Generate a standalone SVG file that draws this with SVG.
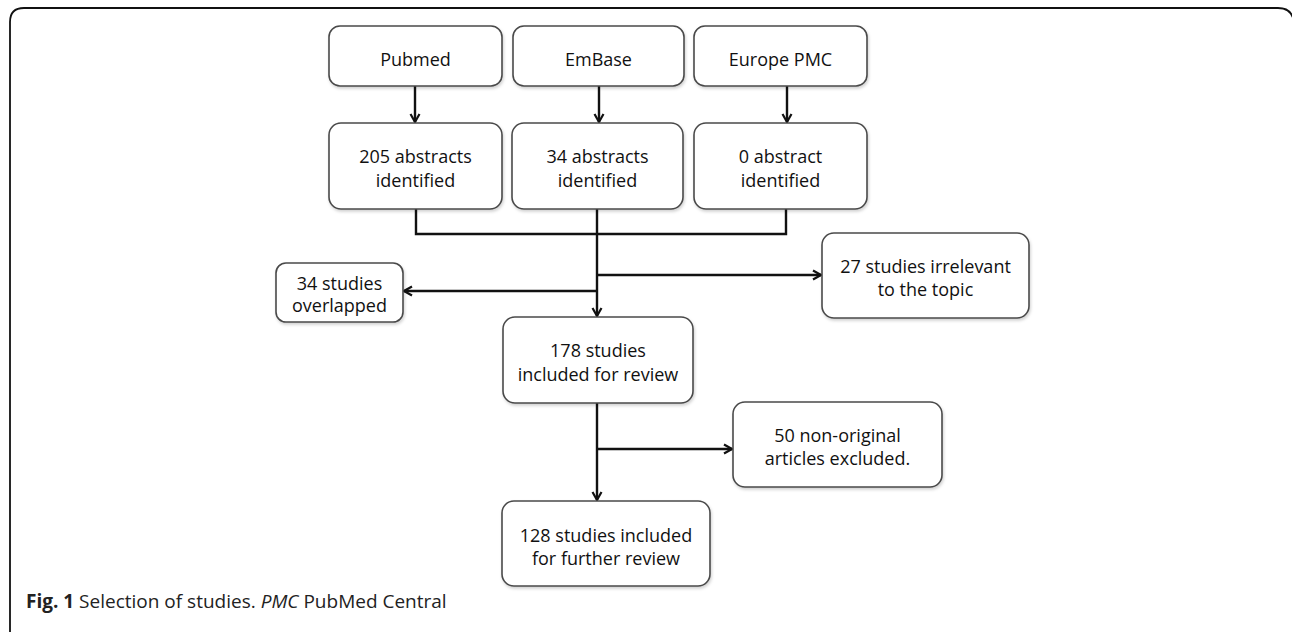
<svg xmlns="http://www.w3.org/2000/svg" width="1292" height="632" viewBox="0 0 1292 632">
<defs>
<style>
.box{fill:#fff;stroke:#4a4a4a;stroke-width:1.6;filter:url(#sh)}
.t{font-family:"Open Sans","Liberation Sans",sans-serif;font-size:18px;fill:#111;text-anchor:middle}
.c{fill:none;stroke:#111;stroke-width:2.4}
.cap{font-family:"Open Sans","Liberation Sans",sans-serif;font-size:19px;fill:#222}
</style>
<filter id="sh" x="-10%" y="-10%" width="120%" height="130%">
<feDropShadow dx="1" dy="2" stdDeviation="1.5" flood-color="#000" flood-opacity="0.18"/>
</filter>
<marker id="ar" viewBox="0 0 12 12" refX="11" refY="6" markerWidth="12" markerHeight="12" markerUnits="userSpaceOnUse" orient="auto">
<path d="M3,1.5 L11,6 L3,10.5" fill="none" stroke="#111" stroke-width="2.2"/>
</marker>
</defs>
<rect width="1292" height="632" fill="#fff"/>
<path d="M10,632 V22 Q10,8 24,8 H1278 Q1290,8 1293,18" fill="none" stroke="#111" stroke-width="1.8"/>

<g id="connectors">
<path class="c" d="M415,86 V122" marker-end="url(#ar)"/>
<path class="c" d="M599,86 V122" marker-end="url(#ar)"/>
<path class="c" d="M787,86 V122" marker-end="url(#ar)"/>
<path class="c" d="M416,209 V234 H786 V209"/>
<path class="c" d="M597,209 V316" marker-end="url(#ar)"/>
<path class="c" d="M597,275 H821" marker-end="url(#ar)"/>
<path class="c" d="M597,291 H404" marker-end="url(#ar)"/>
<path class="c" d="M597,403 V500" marker-end="url(#ar)"/>
<path class="c" d="M597,449 H732" marker-end="url(#ar)"/>
</g>

<g id="pubmed"><rect class="box" x="329" y="26" width="173" height="60" rx="11"/><text class="t" x="415.5" y="66">Pubmed</text></g>
<g id="embase"><rect class="box" x="513" y="26" width="171" height="60" rx="11"/><text class="t" x="598.5" y="66">EmBase</text></g>
<g id="europepmc"><rect class="box" x="694" y="26" width="173" height="60" rx="11"/><text class="t" x="780.5" y="66">Europe PMC</text></g>

<g id="pubmed-abs"><rect class="box" x="329" y="123" width="173" height="86" rx="12"/><text class="t" x="415.5" y="163">205 abstracts</text><text class="t" x="415.5" y="187">identified</text></g>
<g id="embase-abs"><rect class="box" x="512" y="123" width="171" height="86" rx="12"/><text class="t" x="597.5" y="163">34 abstracts</text><text class="t" x="597.5" y="187">identified</text></g>
<g id="europe-abs"><rect class="box" x="694" y="123" width="173" height="86" rx="12"/><text class="t" x="780.5" y="163">0 abstract</text><text class="t" x="780.5" y="187">identified</text></g>

<g id="overlapped"><rect class="box" x="276" y="263" width="127" height="59" rx="10"/><text class="t" x="339.5" y="290">34 studies</text><text class="t" x="339.5" y="312">overlapped</text></g>
<g id="irrelevant"><rect class="box" x="822" y="233" width="207" height="85" rx="12"/><text class="t" x="925.5" y="273">27 studies irrelevant</text><text class="t" x="925.5" y="296">to the topic</text></g>
<g id="included"><rect class="box" x="503" y="317" width="190" height="86" rx="12"/><text class="t" x="598" y="357">178 studies</text><text class="t" x="598" y="381">included for review</text></g>
<g id="nonoriginal"><rect class="box" x="733" y="402" width="209" height="85" rx="12"/><text class="t" x="837.5" y="442">50 non-original</text><text class="t" x="837.5" y="465">articles excluded.</text></g>
<g id="further"><rect class="box" x="502" y="501" width="208" height="85" rx="12"/><text class="t" x="606" y="542">128 studies included</text><text class="t" x="606" y="565">for further review</text></g>

<text class="cap" x="26" y="608"><tspan font-weight="bold">Fig. 1</tspan> Selection of studies. <tspan font-style="italic">PMC</tspan> PubMed Central</text>
</svg>
